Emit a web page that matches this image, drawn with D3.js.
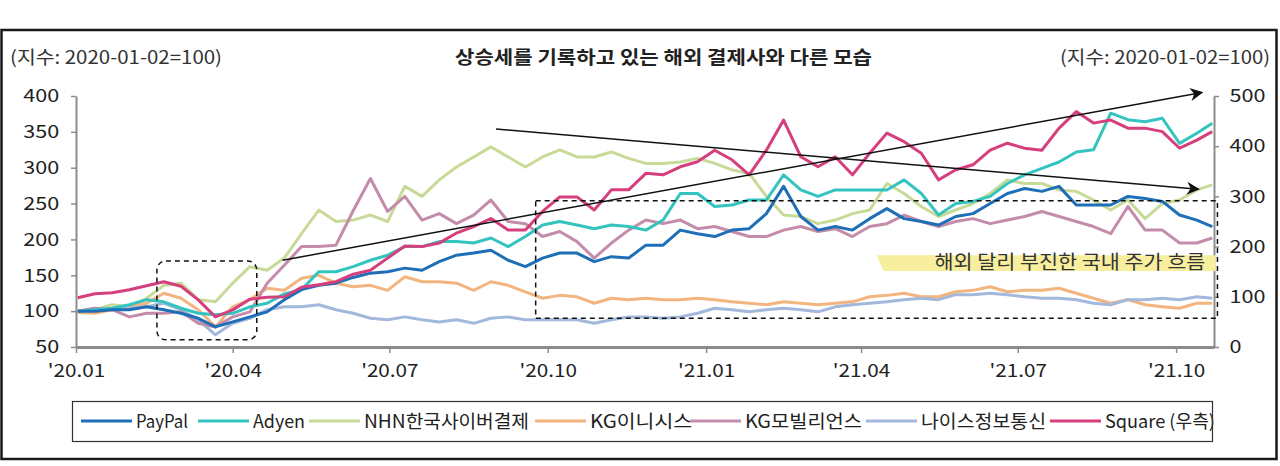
<!DOCTYPE html>
<html>
<head>
<meta charset="utf-8">
<script src="https://cdn.jsdelivr.net/npm/d3@7"></script>
<style>
  body { margin: 0; background: #fff; }
  svg text { font-family: "Noto Sans CJK KR", "Noto Sans", sans-serif; }
</style>
</head>
<body>
<svg id="chart" width="1280" height="466"></svg>
<script>
// data, ~10 day steps
const dates = ["2020-01-02","2020-01-12","2020-01-22","2020-02-01","2020-02-11","2020-02-21","2020-03-02","2020-03-12","2020-03-22","2020-04-01","2020-04-11","2020-04-21","2020-05-01","2020-05-11","2020-05-21","2020-05-31","2020-06-10","2020-06-20","2020-06-30","2020-07-10","2020-07-20","2020-07-30","2020-08-09","2020-08-19","2020-08-29","2020-09-08","2020-09-18","2020-09-28","2020-10-08","2020-10-18","2020-10-28","2020-11-07","2020-11-17","2020-11-27","2020-12-07","2020-12-17","2020-12-27","2021-01-06","2021-01-16","2021-01-26","2021-02-05","2021-02-15","2021-02-25","2021-03-07","2021-03-17","2021-03-27","2021-04-06","2021-04-16","2021-04-26","2021-05-06","2021-05-16","2021-05-26","2021-06-05","2021-06-15","2021-06-25","2021-07-05","2021-07-15","2021-07-25","2021-08-04","2021-08-14","2021-08-24","2021-09-03","2021-09-13","2021-09-23","2021-10-03","2021-10-13","2021-10-22"];

const paypal = [100,100,102,102,106,102,97,90,78,85,92,99,116,130,136,139,147,
  153,155,160,157,169,178,181,185,171,162,174,181,181,169,176,174,192,
  192,213,208,204,213,215,236,274,232,213,218,213,229,243,229,225,
  220,232,236,250,264,271,267,274,248,248,248,260,257,253,234,227,218];
const adyen = [100,102,104,109,116,113,104,97,95,97,106,111,124,130,155,155,162,
  171,178,190,190,197,197,195,202,190,204,220,225,220,215,220,218,213,
  227,264,264,246,248,255,255,290,269,260,269,269,269,269,283,264,
  234,250,253,260,278,290,299,308,322,325,376,367,364,369,334,348,362];
const nhn = [100,102,109,106,118,136,139,116,113,139,162,157,174,208,241,225,227,
  234,225,274,260,283,301,315,329,315,301,315,325,315,315,322,313,306,
  306,308,313,306,297,292,260,234,232,222,227,236,241,278,264,246,
  232,241,250,264,283,278,278,269,267,255,241,255,229,250,255,269,276];
const kgInicis = [98,97,102,106,111,125,118,102,78,106,116,132,129,146,150,139,134,
  136,129,148,141,141,139,129,141,136,127,118,122,120,111,118,116,118,
  116,116,118,116,113,111,109,113,111,109,111,113,120,122,125,120,
  120,127,129,134,127,129,129,132,125,118,111,116,109,106,104,111,111];
const kgMobilians = [100,104,102,92,97,97,99,83,78,92,99,139,164,190,190,192,240,
  285,239,260,227,236,222,234,255,225,222,204,211,197,174,195,213,227,
  222,227,215,218,211,204,204,213,218,211,215,204,218,222,234,225,
  218,225,229,222,227,232,239,232,225,218,208,246,213,213,195,195,202];
const nice = [100,104,102,104,106,111,102,88,67,83,90,102,106,106,109,102,97,
  90,88,92,88,85,88,83,90,92,88,88,88,88,83,88,92,92,
  90,92,97,104,102,99,102,104,102,99,106,109,111,113,116,118,
  116,123,123,125,123,120,118,118,116,111,109,116,116,118,116,120,118];
const square = [98,106,108,114,122,130,121,94,60,74,95,99,100,119,124,130,145,
  153,177,201,200,207,227,240,256,233,233,270,299,299,273,313,313,346,
  343,359,369,392,373,343,392,452,379,359,379,343,386,426,409,386,
  333,353,363,392,406,396,392,436,469,446,452,436,436,429,396,412,429];

const seriesNames = ["PayPal","Adyen","NHN한국사이버결제","KG이니시스","KG모빌리언스","나이스정보통신","Square (우측)"];
const seriesColors = ["#1f6fb8","#33c4c0","#c8da98","#f2b57f","#c48cab","#a2b8dc","#d63f7d"];

const leftTicks = [50,100,150,200,250,300,350,400];
const rightTicks = [0,100,200,300,400,500];
const xTickDates = ["2020-01-01","2020-04-01","2020-07-01","2020-10-01","2021-01-01","2021-04-01","2021-07-01","2021-10-01"];
const xTickLabels = ["'20.01","'20.04","'20.07","'20.10","'21.01","'21.04","'21.07","'21.10"];

const title = "상승세를 기록하고 있는 해외 결제사와 다른 모습";
const unitLabel = "(지수: 2020-01-02=100)";
const noteText = "해외 달리 부진한 국내 주가 흐름";

const parse = d3.timeParse("%Y-%m-%d");
const svg = d3.select("#chart");

const x = d3.scaleTime().domain([parse("2020-01-01"), parse("2021-10-23")]).range([76, 1214]);
const yL = d3.scaleLinear().domain([50, 400]).range([347, 96]);
const yR = d3.scaleLinear().domain([0, 500]).range([347, 96]);

// outer frame
svg.append("rect").attr("x", 1.5).attr("y", 30).attr("width", 1275).attr("height", 429)
  .attr("fill", "none").attr("stroke", "#1a1a1a").attr("stroke-width", 2.5);

// header texts
svg.append("text").attr("x", 10).attr("y", 64).attr("font-size", 18).attr("fill", "#333")
  .attr("textLength", 212).attr("lengthAdjust", "spacingAndGlyphs").text(unitLabel);
svg.append("text").attr("x", 1270).attr("y", 64).attr("font-size", 18).attr("fill", "#333")
  .attr("text-anchor", "end").attr("textLength", 210).attr("lengthAdjust", "spacingAndGlyphs").text(unitLabel);
svg.append("text").attr("x", 455).attr("y", 64).attr("font-size", 18).attr("font-weight", 700).attr("fill", "#222")
  .attr("textLength", 417).attr("lengthAdjust", "spacingAndGlyphs").text(title);

// axes
const axisColor = "#8c8c8c";
const numScale = "scale(1.2,1)";

const gL = svg.append("g").attr("transform", "translate(76,0)")
  .call(d3.axisLeft(yL).tickValues(leftTicks).tickSize(5).tickSizeOuter(0));
const gR = svg.append("g").attr("transform", "translate(1214,0)")
  .call(d3.axisRight(yR).tickValues(rightTicks).tickSize(5).tickSizeOuter(0));
const gB = svg.append("g").attr("transform", "translate(0,347)")
  .call(d3.axisBottom(x).tickValues(xTickDates.map(parse)).tickFormat((d, i) => xTickLabels[i]).tickSize(6).tickSizeOuter(0));

[gL, gR, gB].forEach(g => {
  g.select(".domain").attr("stroke", axisColor).attr("stroke-width", 2);
  g.selectAll(".tick line").attr("stroke", axisColor).attr("stroke-width", 1.5);
  g.selectAll("text").attr("font-size", 18).attr("fill", "#222")
    .attr("font-family", '"Noto Sans CJK KR", "Noto Sans", sans-serif');
});
gB.select(".domain").attr("stroke-width", 3);
gL.selectAll("text").attr("x", -14).attr("transform", numScale);
gR.selectAll("text").attr("x", 13).attr("transform", numScale);
gB.selectAll("text").attr("y", 30).attr("dy", 0).attr("transform", "scale(1.15,1)");

// series lines
const series = [
  { name: seriesNames[2], values: nhn, color: seriesColors[2], y: yL },
  { name: seriesNames[3], values: kgInicis, color: seriesColors[3], y: yL },
  { name: seriesNames[5], values: nice, color: seriesColors[5], y: yL },
  { name: seriesNames[4], values: kgMobilians, color: seriesColors[4], y: yL },
  { name: seriesNames[1], values: adyen, color: seriesColors[1], y: yL },
  { name: seriesNames[0], values: paypal, color: seriesColors[0], y: yL },
  { name: seriesNames[6], values: square, color: seriesColors[6], y: yR }
];

series.forEach(s => {
  const pts = dates.map((d, i) => ({ date: parse(d), v: s.values[i] }));
  const line = d3.line().x(d => x(d.date)).y(d => s.y(d.v));
  svg.append("path").datum(pts).attr("d", line)
    .attr("fill", "none").attr("stroke", s.color).attr("stroke-width", 3)
    .attr("stroke-linejoin", "round");
});

// annotations (placed in data space)
svg.append("rect")
  .attr("x", x(parse("2020-02-17"))).attr("y", yL(170))
  .attr("width", x(parse("2020-04-15")) - x(parse("2020-02-17")))
  .attr("height", yL(60) - yL(170))
  .attr("rx", 9).attr("fill", "none").attr("stroke", "#111")
  .attr("stroke-width", 1.5).attr("stroke-dasharray", "5,4");

svg.append("rect")
  .attr("x", x(parse("2020-09-24"))).attr("y", yL(254))
  .attr("width", x(parse("2021-10-25")) - x(parse("2020-09-24")))
  .attr("height", yL(90) - yL(254))
  .attr("fill", "none").attr("stroke", "#111")
  .attr("stroke-width", 1.5).attr("stroke-dasharray", "5,4");

const band = [[parse("2021-04-10"), 178], [parse("2021-10-24"), 178], [parse("2021-10-24"), 156], [parse("2021-04-14"), 156]];
svg.append("polygon")
  .attr("points", band.map(p => [x(p[0]), yL(p[1])].join(",")).join(" "))
  .attr("fill", "#f7ee9e");
svg.append("text").attr("x", x(parse("2021-10-18"))).attr("y", yL(159))
  .attr("text-anchor", "end").attr("font-size", 19.5).attr("fill", "#333")
  .attr("textLength", 271).attr("lengthAdjust", "spacingAndGlyphs").text(noteText);

svg.append("defs").append("marker")
  .attr("id", "arr").attr("viewBox", "0 0 10 10").attr("refX", 9).attr("refY", 5)
  .attr("markerUnits", "userSpaceOnUse").attr("markerWidth", 18).attr("markerHeight", 13)
  .attr("orient", "auto")
  .append("path").attr("d", "M0,0 L10,5 L0,10 L3,5 Z").attr("fill", "#111");

const arrows = [
  [[parse("2020-04-30"), 171], [parse("2021-10-16"), 405]],
  [[parse("2020-09-01"), 354], [parse("2021-10-14"), 270]]
];
arrows.forEach(a => {
  svg.append("line")
    .attr("x1", x(a[0][0])).attr("y1", yL(a[0][1]))
    .attr("x2", x(a[1][0])).attr("y2", yL(a[1][1]))
    .attr("stroke", "#111").attr("stroke-width", 1.5).attr("marker-end", "url(#arr)");
});

// legend
const legendX = [81, 198, 309, 535, 690, 866, 1050];
const legendW = [52, 52, 165, 102, 117, 125, 110];
const lg = svg.append("g");
seriesNames.forEach((n, i) => {
  lg.append("line").attr("x1", legendX[i]).attr("x2", legendX[i] + 51)
    .attr("y1", 421).attr("y2", 421).attr("stroke", seriesColors[i]).attr("stroke-width", 3);
  lg.append("text").attr("x", legendX[i] + 55).attr("y", 428).attr("font-size", 18).attr("fill", "#222")
    .attr("textLength", legendW[i]).attr("lengthAdjust", "spacingAndGlyphs").text(n);
});
lg.append("rect").attr("x", 72.5).attr("y", 401.5).attr("width", 1140).attr("height", 40)
  .attr("fill", "none").attr("stroke", "#333").attr("stroke-width", 1.2);
</script>
</body>
</html>
